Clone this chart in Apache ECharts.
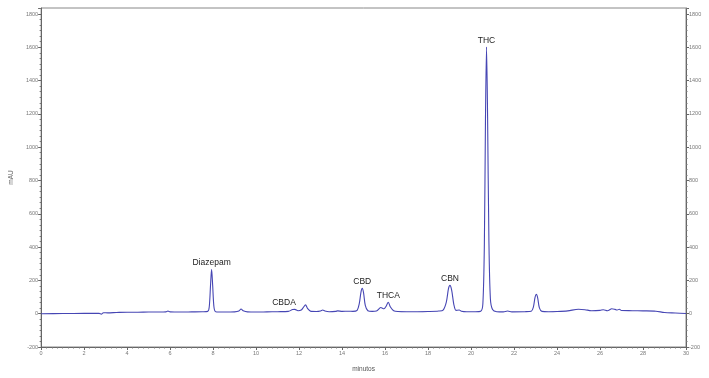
<!DOCTYPE html>
<html>
<head>
<meta charset="utf-8">
<script src="https://cdn.jsdelivr.net/npm/echarts@6/dist/echarts.min.js"></script>
<style>
html, body { margin: 0; padding: 0; background: #fff; }
#main { width: 709px; height: 378px; }
</style>
</head>
<body>
<div id="main"></div>
<script>
// retention time (min) and absorbance (mAU)
var minutes = [0, 1, 2, 2.7, 2.8, 2.9, 3.1, 3.5, 4, 4.5, 5, 5.5, 5.8, 5.9, 6.0, 6.5, 7.0, 7.5,
    7.75, 7.82, 7.88, 7.93, 7.98, 8.04, 8.12, 8.5, 9.0, 9.2, 9.3, 9.4, 9.6, 10, 10.5, 11, 11.5,
    11.7, 11.8, 11.95, 12.1, 12.2, 12.3, 12.4, 12.55, 12.8, 13.0, 13.1, 13.2, 13.4, 13.7, 13.8,
    14.0, 14.3, 14.5, 14.7, 14.8, 14.88, 14.94, 15.0, 15.08, 15.2, 15.4, 15.6, 15.8, 15.95, 16.05,
    16.15, 16.25, 16.4, 16.6, 17, 17.5, 18, 18.5, 18.7, 18.85, 18.95, 19.02, 19.1, 19.2, 19.3,
    19.45, 19.55, 19.8, 20.2, 20.45, 20.55, 20.62, 20.67, 20.72, 20.77, 20.83, 20.9, 21.0, 21.2,
    21.5, 21.7, 21.9, 22.5, 22.8, 22.9, 22.98, 23.04, 23.1, 23.18, 23.3, 23.6, 24, 24.5, 25.0,
    25.3, 25.6, 26.0, 26.15, 26.35, 26.55, 26.7, 26.8, 26.9, 27.0, 27.5, 28, 28.6, 29, 29.5, 30];
var mAU = [0, 1, 2, 2, -3, 6, 5, 7, 9, 9, 10, 10, 11, 16, 11, 10, 11, 12,
    14, 40, 170, 267, 170, 40, 12, 10, 11, 16, 28, 18, 11, 10, 11, 12, 14,
    25, 26, 18, 22, 38, 53, 30, 14, 13, 16, 22, 16, 12, 14, 17,
    14, 15, 14, 20, 60, 130, 152, 125, 50, 18, 14, 16, 37, 30, 45,
    69, 40, 18, 13, 12, 12, 13, 16, 22, 70, 150, 170, 140, 55, 20,
    22, 15, 12, 12, 15, 60, 420, 1150, 1602, 1180, 450, 90, 25, 12,
    11, 16, 11, 12, 15, 40, 100, 116, 95, 35, 14, 12, 13, 17, 27,
    24, 18, 20, 24, 18, 30, 26, 22, 27, 19, 18, 17, 15, 7, 4, 1];
var peakNames = ["Diazepam", "CBDA", "CBD", "THCA", "CBN", "THC"];
var peakTimes = [7.93, 11.3, 14.94, 16.15, 19.02, 20.72];
var peakHeights = [267, 26, 152, 69, 170, 1602];

var myChart = echarts.init(document.getElementById("main"));

var trace = minutes.map(function (t, i) { return [t, mAU[i]]; });
var peaks = peakNames.map(function (n, i) {
    return { name: n, coord: [peakTimes[i], peakHeights[i]], value: n };
});

var tickFont = { fontSize: 5.5, color: "#777", fontFamily: "Liberation Sans" };
function yAxisDef(pos) {
    return {
        type: "value",
        position: pos,
        min: -200,
        max: 1836,
        interval: 200,
        name: pos === "left" ? "mAU" : "",
        nameLocation: "middle",
        nameGap: 24,
        nameTextStyle: { fontSize: 6.5, color: "#666", fontFamily: "Liberation Sans" },
        axisLine: { show: true, lineStyle: { color: "#666", width: 1 } },
        axisTick: { show: true, inside: false, length: 3, lineStyle: { color: "#666" } },
        minorTick: { show: true, splitNumber: 6, length: 1.5, lineStyle: { color: "#777" } },
        splitLine: { show: false },
        axisLabel: Object.assign({
            margin: 3,
            showMaxLabel: false,
            formatter: function (v) { return String(v); },
        }, tickFont),
    };
}

var option = {
    animation: false,
    backgroundColor: "#fff",
    grid: {
        left: 39,
        right: 23,
        top: 8,
        bottom: 27,
        show: true,
        borderColor: "#888",
        borderWidth: 1,
    },
    xAxis: {
        type: "value",
        min: 0,
        max: 30,
        interval: 2,
        name: "minutos",
        nameLocation: "middle",
        nameGap: 19,
        nameTextStyle: { fontSize: 6.5, color: "#555", fontFamily: "Liberation Sans" },
        axisLine: { show: true, onZero: false, lineStyle: { color: "#666", width: 1 } },
        axisTick: { show: true, length: 3, lineStyle: { color: "#666" } },
        minorTick: { show: true, splitNumber: 8, length: 1.5, lineStyle: { color: "#777" } },
        splitLine: { show: false },
        axisLabel: Object.assign({ margin: 3 }, tickFont),
    },
    yAxis: [yAxisDef("left"), yAxisDef("right")],
    series: [{
        type: "line",
        data: trace,
        showSymbol: false,
        smooth: 0.3,
        lineStyle: { color: "#4646b4", width: 1.1 },
        markPoint: {
            symbol: "circle",
            symbolSize: 0,
            label: {
                show: true,
                position: "top",
                distance: 2,
                formatter: "{b}",
                fontSize: 8.5,
                color: "#222",
                fontFamily: "Liberation Sans",
            },
            data: peaks,
        },
    }],
};
myChart.setOption(option);
</script>
</body>
</html>
